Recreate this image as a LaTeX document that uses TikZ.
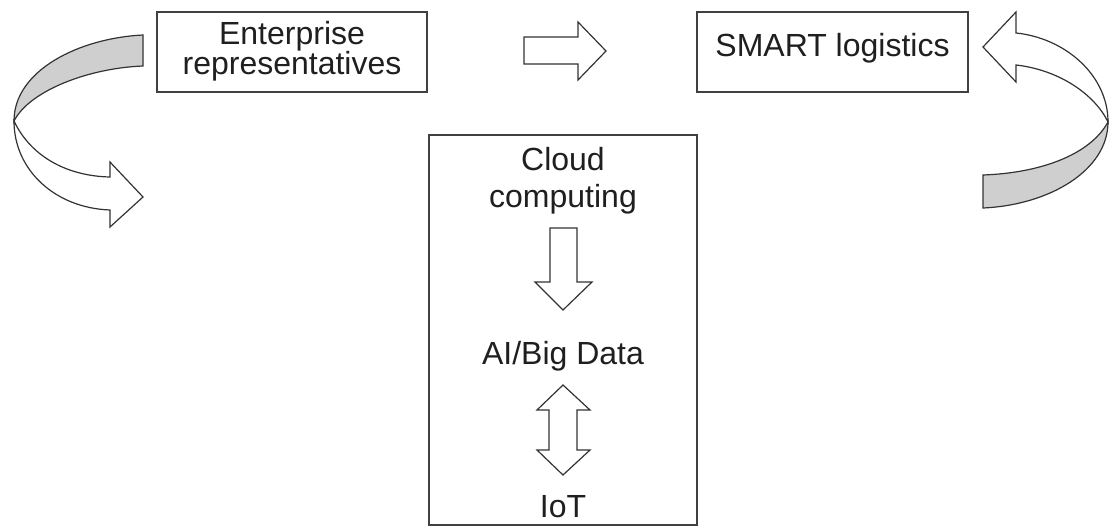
\documentclass[tikz,border=0pt]{standalone}
\usepackage{fontspec}
\setmainfont{Liberation Sans}
\begin{document}
\begin{tikzpicture}[x=1pt,y=-1pt,
  box/.style={draw=black!75, line width=1.7pt, fill=white, inner sep=0pt},
  lbl/.style={inner sep=0pt, anchor=base, text=black!88,
              font=\fontsize{32}{38}\selectfont},
  blockarrow/.style={draw=black!80, line width=1.2pt, fill=white, line join=miter},
  backside/.style={draw=black!80, line width=1.2pt, fill=black!19, line join=miter}]
\useasboundingbox (0,0) rectangle (1112,527);

% boxes
\node[box, minimum width=270pt, minimum height=80pt] (ent) at (292,52) {};
\node[box, minimum width=271pt, minimum height=80pt] (smart) at (832.5,52) {};
\node[box, minimum width=268pt, minimum height=390pt] (tech) at (563,330) {};

% labels
\node[lbl] (ent1) at (292,45) {Enterprise};
\node[lbl] (ent2) at (292,75) {representatives};
\node[lbl] (smartl) at (832.5,57) {SMART logistics};
\node[lbl] (cloud1) at (563,170) {Cloud};
\node[lbl] (cloud2) at (563,207) {computing};
\node[lbl] (ai) at (563,364) {AI/Big Data};
\node[lbl] (iot) at (563,517) {IoT};

% block arrow between the top boxes
\draw[blockarrow] (524,37) -- (578,37) -- (578,22) -- (606,51)
  -- (578,80) -- (578,64) -- (524,64) -- cycle;

% cloud computing -> AI/Big Data
\draw[blockarrow] (550,228) -- (577,228) -- (577,282) -- (592,282)
  -- (563,310) -- (535,282) -- (550,282) -- cycle;

% AI/Big Data <-> IoT
\draw[blockarrow] (563,385) -- (590,410) -- (577,410) -- (577,450)
  -- (590,450) -- (563,475) -- (537,450) -- (549,450) -- (549,410)
  -- (537,410) -- cycle;

% left curved ribbon arrow: shaded back side, then the front with its head
\coordinate (lt) at (14,121);
\draw[backside] (143,35) .. controls (80,38) and (14,70) .. (lt)
  .. controls (30,90) and (90,68) .. (143,66) -- cycle;
\draw[blockarrow] (lt) .. controls (14,170) and (55,208) .. (110,210)
  -- (110,227) -- (143,197) -- (110,162) -- (110,177)
  .. controls (65,176) and (30,155) .. (lt) -- cycle;

% right curved ribbon arrow: front with its head, then the shaded back side
\coordinate (rt) at (1108,122);
\draw[blockarrow] (1016,33) .. controls (1065,38) and (1108,75) .. (rt)
  .. controls (1095,95) and (1060,70) .. (1016,65)
  -- (1016,82) -- (983,47) -- (1016,12) -- cycle;
\draw[backside] (rt) .. controls (1108,170) and (1050,205) .. (983,208)
  -- (983,175) .. controls (1040,173) and (1090,155) .. (rt) -- cycle;
\end{tikzpicture}
\end{document}
